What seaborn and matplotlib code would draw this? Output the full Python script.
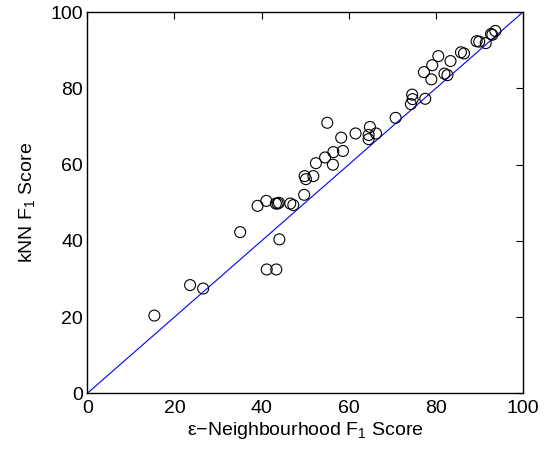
import matplotlib
matplotlib.use("Agg")
import matplotlib.pyplot as plt
import seaborn as sns
import pandas as pd

# F1 scores per dataset: epsilon-neighbourhood graph vs kNN graph
eps_f1 = [15.4, 23.6, 26.6, 35.1, 39.1, 41.1, 43.3, 43.7, 44.0, 46.6, 47.3,
          44.1, 41.2, 43.4, 49.8, 49.9, 50.2, 51.9, 52.5, 54.6, 55.1, 56.4,
          56.5, 58.3, 58.7, 61.6, 64.6, 64.9, 64.6, 66.3, 70.8, 74.3, 74.6,
          74.7, 77.6, 77.3, 79.0, 79.2, 80.6, 82.0, 82.7, 83.4, 85.8, 86.5,
          89.4, 90.0, 91.5, 92.7, 93.0, 93.7]
knn_f1 = [20.4, 28.4, 27.5, 42.3, 49.2, 50.5, 49.8, 49.8, 50.0, 49.8, 49.4,
          40.4, 32.5, 32.5, 52.1, 57.0, 56.2, 57.0, 60.4, 61.9, 71.0, 60.0,
          63.3, 67.1, 63.6, 68.2, 67.8, 69.9, 66.7, 68.2, 72.3, 75.9, 78.4,
          77.2, 77.3, 84.3, 82.4, 86.1, 88.5, 83.9, 83.5, 87.2, 89.5, 89.2,
          92.4, 92.3, 91.9, 94.3, 94.1, 95.1]
diag = [0, 100]
ticks = [0, 20, 40, 60, 80, 100]

sns.set_style("white")
plt.rcParams["font.family"] = ["Liberation Sans", "DejaVu Sans"]
plt.rcParams["mathtext.fontset"] = "custom"
plt.rcParams["mathtext.rm"] = "Liberation Sans"
plt.rcParams["mathtext.it"] = "Liberation Sans"
plt.rcParams["text.color"] = "black"
plt.rcParams["axes.labelcolor"] = "black"
plt.rcParams["xtick.color"] = "black"
plt.rcParams["ytick.color"] = "black"

df = pd.DataFrame({"eps": eps_f1, "knn": knn_f1})

fig = plt.figure(figsize=(5.44, 4.5), dpi=100)
ax = fig.add_axes([0.1605, 0.126, 0.8005, 0.8467])

sns.lineplot(x=diag, y=diag, ax=ax, color="blue", linewidth=0.8)
sns.scatterplot(data=df, x="eps", y="knn", ax=ax, marker="o", s=62,
                facecolor="none", edgecolor="black", linewidth=0.8, zorder=3)

ax.set_xlim(0, 100)
ax.set_ylim(0, 100)
ax.set_xticks(ticks)
ax.set_yticks(ticks)
ax.tick_params(direction="in", top=True, right=True, length=5, width=0.8,
               labelsize=14, color="black")
ax.tick_params(axis="x", pad=5)
ax.tick_params(axis="y", pad=3)
for s in ax.spines.values():
    s.set_visible(True)
    s.set_color("black")
    s.set_linewidth(1.0)

ax.set_xlabel("ε−Neighbourhood F$_1$ Score", fontsize=14, labelpad=2)
ax.set_ylabel("kNN F$_1$ Score", fontsize=14, labelpad=10)

fig.savefig("out.png", dpi=100, facecolor="white")
